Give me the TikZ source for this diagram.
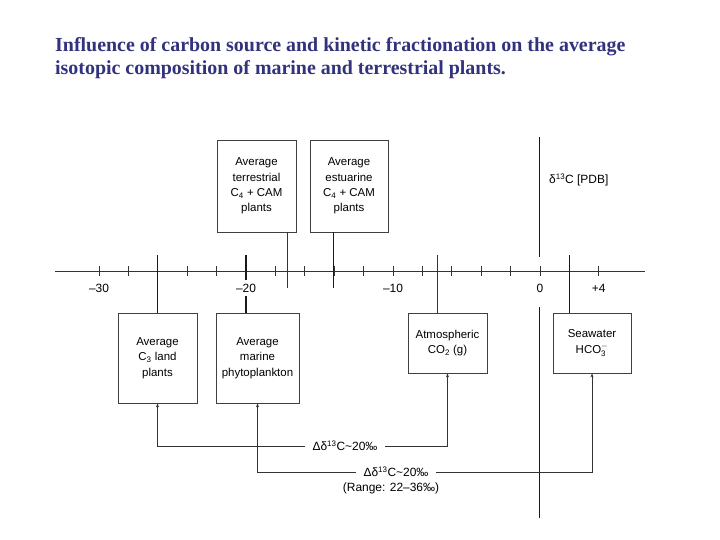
\documentclass[tikz,border=0pt]{standalone}
\usepackage{fontspec}
\setmainfont{Liberation Serif}
\setsansfont{Liberation Sans}
\usetikzlibrary{arrows.meta}
\definecolor{TitleBlue}{RGB}{50,50,125}
\tikzstyle{ColorBox1} = [draw=black!75,line width=0.8pt,align=center,inner sep=0pt,font=\sffamily\fontsize{11.5}{15.5}\selectfont]
\tikzstyle{ColorLine1} = [color=black!80,line width=0.8pt]
\tikzstyle{ColorLine2} = [color=black!90,line width=1.3pt]
\tikzstyle{ColorText1} = [font=\sffamily\fontsize{12}{15}\selectfont]

\begin{document}
\begin{tikzpicture}[x=1bp,y=-1bp,>={Stealth[length=4bp,width=3bp]}]
\useasboundingbox (0,0) rectangle (720,540);

% title
\node[anchor=north west,inner sep=0pt,align=left,text=TitleBlue,font=\bfseries\fontsize{20}{23}\selectfont] (title) at (55,37)
 {Influence of carbon source and kinetic fractionation on the average\\isotopic composition of marine and terrestrial plants.};

% axis and ticks
\draw [ColorLine1] (55,271) -- (645,271);
\foreach \v in {-30,-28,...,4}
  \draw [ColorLine1] ({540+14.7*\v},266) -- ({540+14.7*\v},276);

\draw (99,288) node[ColorText1] (tm30) {--30};
\draw (246,288) node[ColorText1] (tm20) {--20};
\draw (393,288) node[ColorText1] (tm10) {--10};
\draw (540,288) node[ColorText1] (t0) {0};
\draw (598.8,288) node[ColorText1] (tp4) {+4};

% delta axis
\draw [ColorLine2] (539.5,137) -- (539.5,257);
\draw [ColorLine2] (539.5,307) -- (539.5,518);
\draw (549,180) node[ColorText1,anchor=west,inner sep=0pt] (pdb) {δ\textsuperscript{13}C [PDB]};

% boxes
\node[ColorBox1,minimum width=79bp,minimum height=92bp] (terr) at (256.5,186) {Average\\terrestrial\\C\textsubscript{4} + CAM\\plants};
\node[ColorBox1,minimum width=78bp,minimum height=92bp] (estu) at (349,186) {Average\\estuarine\\C\textsubscript{4} + CAM\\plants};
\node[ColorBox1,minimum width=79bp,minimum height=90bp] (cthree) at (157.5,358) {Average\\C\textsubscript{3} land\\plants};
\node[ColorBox1,minimum width=83bp,minimum height=90bp] (phyto) at (257.5,358) {Average\\marine\\phytoplankton};
\node[ColorBox1,minimum width=79bp,minimum height=60bp] (atm) at (447.5,343) {Atmospheric\\CO\textsubscript{2} (g)};
\node[ColorBox1,minimum width=78bp,minimum height=60bp] (sea) at (592,343) {Seawater\\HCO$_{\mathsf{3}}^{-}$};

% stems to the axis
\coordinate (pC3) at (157.8,255);
\coordinate (pPhyto) at (246,255);
\coordinate (pTerr) at (287,288);
\coordinate (pEstu) at (333.8,288);
\coordinate (pAtm) at (437.1,255);
\coordinate (pSea) at (569.4,255);

\draw [ColorLine2] (pC3) -- (pC3 |- cthree.north);
\draw [ColorLine2] (pPhyto) -- (tm20.north);
\draw [ColorLine2] (tm20.south) -- (tm20.south |- phyto.north);
\draw [ColorLine1] (terr.south -| pTerr) -- (pTerr);
\draw [ColorLine2] (estu.south -| pEstu) -- (pEstu);
\draw [ColorLine1] (pAtm) -- (pAtm |- atm.north);
\draw [ColorLine2] (pSea) -- (pSea |- sea.north);

% fractionation arrows
\node[ColorText1,inner xsep=7bp] (dOne) at (345,446) {Δδ\textsuperscript{13}C\textasciitilde20‰};
\draw [ColorLine1,<-] (atm.south) |- (dOne.east);
\draw [ColorLine1,->] (dOne.west) -| (cthree.south);

\node[ColorText1,inner xsep=7bp] (dTwo) at (396,472) {Δδ\textsuperscript{13}C\textasciitilde20‰};
\node[ColorText1] (range) at (391,488) {(Range: 22--36‰)};
\draw [ColorLine1,<-] (sea.south) |- (dTwo.east);
\draw [ColorLine1,->] (dTwo.west) -| (phyto.south);

\end{tikzpicture}
\end{document}
